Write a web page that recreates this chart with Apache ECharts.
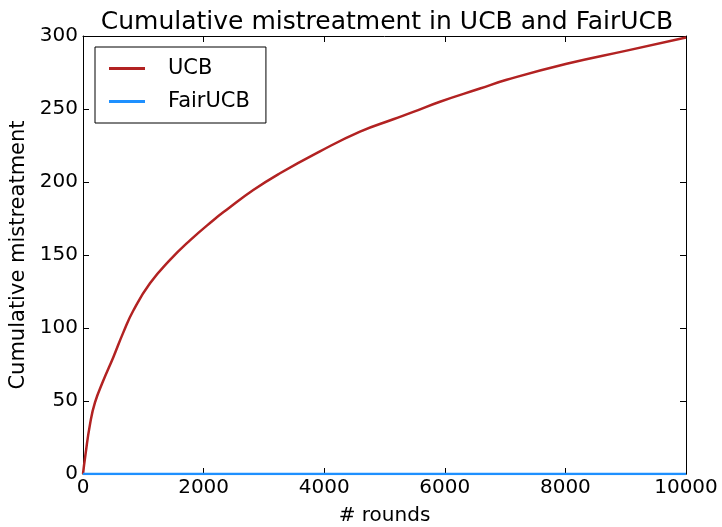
<!DOCTYPE html>
<html>
<head>
<meta charset="utf-8">
<script src="https://cdn.jsdelivr.net/npm/echarts@6/dist/echarts.min.js"></script>
<style>html,body{margin:0;padding:0;background:#fff;}#c{width:722px;height:527px;}</style>
</head>
<body>
<div id="c"></div>
<script>
var rounds = [0, 40, 116, 199, 337, 503, 669, 835, 1111, 1443, 1774, 2161, 2383, 2824, 3267, 3930, 4594, 5146, 5478, 5920, 6584, 7026, 8021, 9016, 10000];
var ucb = [0, 13, 34, 49, 64, 80, 97, 112, 130.6, 146.6, 160, 173.8, 181, 194.5, 206, 221, 234.5, 243, 248, 255, 264, 270, 281, 290, 299];
var fairRounds = [0, 10000];
var fairucb = [0, 0];
var xTicks = [0, 2000, 4000, 6000, 8000, 10000];
var yTicks = [0, 50, 100, 150, 200, 250, 300];

var font = 'DejaVu Sans';
var chart = echarts.init(document.getElementById('c'));
function pairs(xs, ys){ return xs.map(function(x,i){ return [x, ys[i]]; }); }
var tickStyle = {show:true, inside:true, length:6, lineStyle:{color:'#000', width:1}};
var lineIcon = 'path://M0,0 L24,0 L24,2 L0,2 Z';
chart.setOption({
  animation:false,
  backgroundColor:'#fff',
  title:{text:'Cumulative mistreatment in UCB and FairUCB', left:382, top:5, textAlign:'center',
    textStyle:{fontFamily:font, fontSize:25, fontWeight:'normal', color:'#000'}},
  grid:{left:83, right:36, top:36, bottom:53, outerBoundsMode:'none', containLabel:false},
  legend:{orient:'vertical', left:95, top:47, data:[{name:'UCB', icon:lineIcon},{name:'FairUCB', icon:lineIcon}],
    borderColor:'#000', borderWidth:1, padding:[11, 16, 11, 14], itemWidth:36, itemHeight:20, itemGap:12,
    textStyle:{fontFamily:font, fontSize:21, color:'#000', padding:[0,0,0,18]}},
  xAxis:[{type:'value', min:xTicks[0], max:xTicks[xTicks.length-1], interval:2000,
    name:'# rounds', nameLocation:'middle', nameGap:32, nameTextStyle:{fontFamily:font, fontSize:20, color:'#000'},
    axisLine:{show:true, onZero:false, lineStyle:{color:'#000', width:1}}, axisTick:tickStyle, splitLine:{show:false},
    axisLabel:{fontFamily:font, fontSize:20, color:'#000', margin:4, formatter:function(v){return String(v);}}},
    {type:'value', position:'top', min:xTicks[0], max:xTicks[xTicks.length-1], interval:2000,
    axisLine:{show:true, onZero:false, lineStyle:{color:'#000', width:1}}, axisTick:tickStyle, axisLabel:{show:false}, splitLine:{show:false}}],
  yAxis:[{type:'value', min:yTicks[0], max:yTicks[yTicks.length-1], interval:50,
    name:'Cumulative mistreatment', nameLocation:'middle', nameGap:48, nameTextStyle:{fontFamily:font, fontSize:21, color:'#000'},
    axisLine:{show:true, onZero:false, lineStyle:{color:'#000', width:1}}, axisTick:tickStyle, splitLine:{show:false},
    axisLabel:{fontFamily:font, fontSize:20, color:'#000', margin:5, formatter:function(v){return String(v);}}},
    {type:'value', position:'right', min:yTicks[0], max:yTicks[yTicks.length-1], interval:50,
    axisLine:{show:true, onZero:false, lineStyle:{color:'#000', width:1}}, axisTick:tickStyle, axisLabel:{show:false}, splitLine:{show:false}}],
  series:[
    {name:'UCB', type:'line', data:pairs(rounds, ucb), symbol:'none', smooth:0.5, color:'#b22222', lineStyle:{width:2.5, color:'#b22222'}},
    {name:'FairUCB', type:'line', data:pairs(fairRounds, fairucb), symbol:'none', color:'#1e90ff', lineStyle:{width:2.5, color:'#1e90ff'}, z:5}
  ]
});
</script>
</body>
</html>
